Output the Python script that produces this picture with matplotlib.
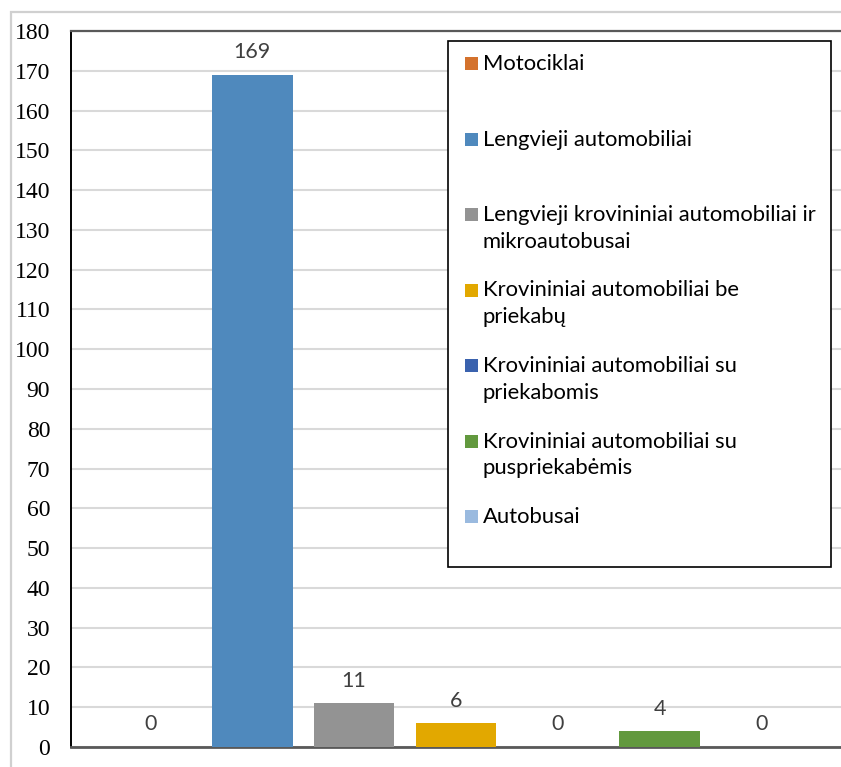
import matplotlib
matplotlib.use("Agg")
import matplotlib.pyplot as plt
from matplotlib.patches import Rectangle

# data
categories = [
    "Motociklai",
    "Lengvieji automobiliai",
    "Lengvieji krovininiai automobiliai ir\nmikroautobusai",
    "Krovininiai automobiliai be\npriekabų",
    "Krovininiai automobiliai su\npriekabomis",
    "Krovininiai automobiliai su\npuspriekabėmis",
    "Autobusai",
]
values = [0, 169, 11, 6, 0, 4, 0]
colors = ["#D4722D", "#4F89BD", "#939393", "#E2A800", "#3A62AE", "#62993E", "#9ABADF"]
yticks = list(range(0, 181, 10))

W, H = 841, 767
fig = plt.figure(figsize=(W / 100, H / 100), dpi=100)


def fx(px):
    return px / W


def fy(py):
    return 1 - py / H


# outer chart border (cropped on right/bottom)
fig.patches.append(Rectangle((fx(11), fy(800)), fx(900), fy(12) - fy(800),
                             transform=fig.transFigure, fill=False,
                             edgecolor="#D0D0D0", linewidth=1.6))

ax = fig.add_axes([fx(71), fy(747), fx(841) - fx(71), fy(31) - fy(747)])

x = list(range(len(values)))
ax.bar(x, values, width=0.79, color=colors, zorder=3)

for xi, v in zip(x, values):
    ax.annotate(str(v), (xi, v), xytext=(0, 9), textcoords="offset points",
                ha="center", va="bottom", fontsize=15.5, color="#404040",
                family="Lato", zorder=4)

ax.set_xlim(-0.78, 6.78)
ax.set_ylim(0, 180)
ax.set_yticks(yticks)
ax.set_yticklabels([])
ax.tick_params(axis="y", length=0)
ax.set_xticks([])
ax.grid(axis="y", color="#D9D9D9", linewidth=1.5, zorder=0)

# y tick labels as plain texts so the serif face sticks
ytrans = ax.get_yaxis_transform()
for t in yticks:
    ax.annotate(str(t), (0, t), xycoords=ytrans, xytext=(-15, 0),
                textcoords="offset points", ha="right", va="center_baseline",
                fontsize=17, family="Liberation Serif", color="black",
                annotation_clip=False)

ax.spines["right"].set_visible(False)
ax.spines["left"].set_color("black")
ax.spines["left"].set_linewidth(1.4)
ax.spines["top"].set_color("#595959")
ax.spines["top"].set_linewidth(1.6)
ax.spines["bottom"].set_color("#595959")
ax.spines["bottom"].set_linewidth(2)

# legend drawn by hand so entries are evenly spaced like the original
fig.patches.append(Rectangle((fx(448), fy(567)), fx(831) - fx(448), fy(41) - fy(567),
                             transform=fig.transFigure, facecolor="white",
                             edgecolor="black", linewidth=1.2, zorder=5))
for i, (lab, c) in enumerate(zip(categories, colors)):
    top = 54 + 75.5 * i
    fig.patches.append(Rectangle((fx(465), fy(top + 16)), fx(13), fy(0) - fy(13),
                                 transform=fig.transFigure, facecolor=c,
                                 edgecolor="none", zorder=6))
    fig.text(fx(483), fy(top), lab, ha="left", va="top", fontsize=15.8,
             family="Lato", color="black", linespacing=1.42, zorder=6)

fig.savefig("out.png", dpi=100)
